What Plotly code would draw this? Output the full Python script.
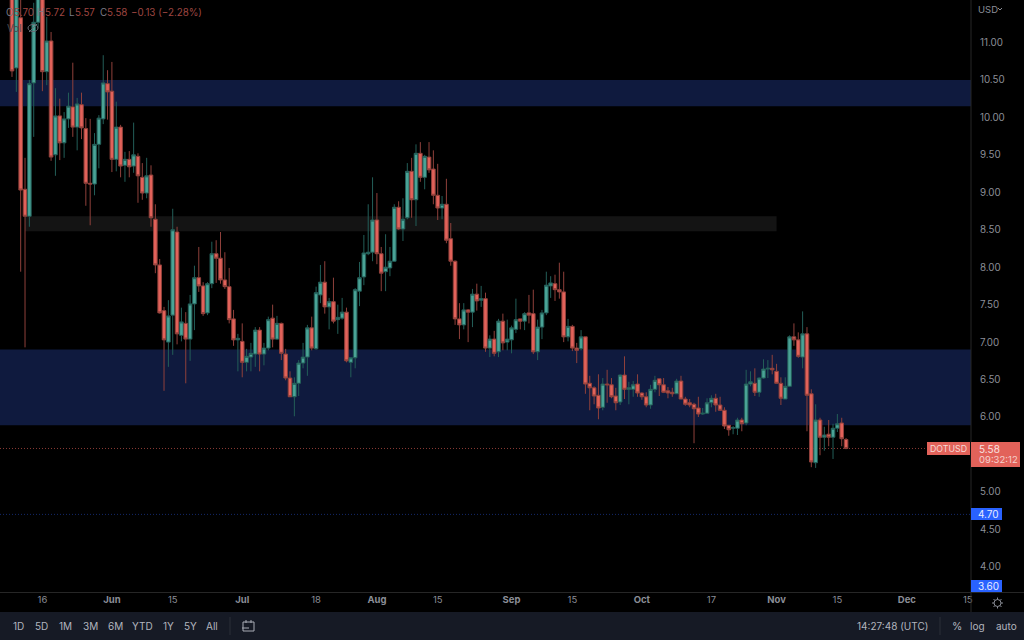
import plotly.graph_objects as go
import pandas as pd

dates = pd.date_range("2022-05-09", periods=193, freq="D")
opens = [11.90,10.66,11.33,9.04,8.68,10.46,11.27,11.75,10.61,11.02,9.50,10.02,9.66,9.98,10.14,9.87,10.17,9.85,9.12,9.11,9.64,9.98,10.45,10.35,9.44,9.87,9.36,9.44,9.35,9.48,9.20,8.99,9.23,
8.64,8.03,7.42,7.00,7.36,8.47,7.09,7.25,7.04,7.51,7.86,7.75,7.39,7.78,8.18,8.12,7.83,7.74,7.31,7.03,7.01,6.73,6.80,6.84,7.16,6.84,6.92,7.32,7.04,7.25,6.84,6.52,6.27,6.45,6.72,6.80,7.19,6.91,7.63,7.80,7.47,7.54,7.30,7.32,7.40,6.73,6.79,7.68,7.87,8.18,8.20,8.63,8.18,7.94,7.99,8.08,8.80,8.51,8.66,9.28,8.90,9.52,9.20,9.47,9.31,8.96,8.79,8.84,8.38,8.08,7.31,7.23,7.43,7.40,7.64,7.56,7.58,
6.92,7.04,6.87,7.28,7.00,7.03,7.17,7.31,7.28,7.39,7.38,6.87,7.20,7.39,7.75,7.78,7.70,7.67,7.07,7.21,6.92,6.91,7.07,6.45,6.39,6.29,6.13,6.44,6.43,6.28,6.20,6.56,6.37,6.37,6.44,6.32,6.27,6.16,6.37,6.51,6.43,6.35,6.33,6.31,6.48,6.24,6.19,6.17,6.12,6.04,6.05,6.19,6.25,6.16,6.09,5.89,5.85,5.85,5.96,5.92,6.44,6.45,6.33,6.52,6.64,6.65,6.61,6.45,6.24,6.41,7.07,7.03,6.80,7.11,6.31,5.39,5.96,5.73,5.77,5.73,5.85,5.92,5.70]
highs = [12.20,11.90,11.80,9.46,10.50,11.53,11.80,11.90,11.34,11.14,10.39,10.25,10.07,10.33,10.73,10.26,10.33,9.99,9.98,9.79,10.03,10.83,10.63,10.74,10.21,9.90,9.54,9.55,9.93,9.52,9.39,9.46,9.36,
8.84,8.11,7.47,7.56,8.78,8.54,7.46,7.40,7.63,8.02,8.27,7.80,7.80,8.34,8.36,8.47,8.20,7.99,7.43,7.11,7.25,6.91,6.99,7.20,7.20,6.99,7.34,7.50,7.35,7.26,6.91,6.61,6.53,6.76,6.99,7.23,7.34,7.74,8.03,8.08,7.59,7.86,7.50,7.59,7.46,6.79,7.72,8.07,8.43,8.84,9.20,8.99,8.27,8.44,8.27,8.84,8.88,8.92,9.39,9.46,9.64,9.67,9.50,9.67,9.56,9.38,8.95,9.18,8.59,8.09,7.52,7.52,7.44,7.71,7.78,7.75,7.66,
7.09,7.15,7.31,7.38,7.30,7.22,7.58,7.31,7.40,7.63,7.70,7.30,7.43,7.94,7.88,7.90,8.06,7.94,7.31,7.23,6.99,7.16,7.07,6.55,6.41,6.57,6.52,6.63,6.52,6.39,6.57,6.81,6.47,6.48,6.57,6.33,6.33,6.43,6.55,6.51,6.52,6.40,6.39,6.51,6.55,6.27,6.24,6.19,6.27,6.12,6.25,6.29,6.31,6.27,6.13,5.89,5.88,5.99,5.99,6.63,6.61,6.65,6.53,6.77,6.76,6.83,6.71,6.53,6.53,7.09,7.25,7.13,7.41,7.20,6.37,6.17,5.99,5.87,5.96,5.91,6.04,5.99,5.72]
lows = [10.54,10.34,7.94,6.93,8.54,9.74,11.20,10.35,10.43,9.42,9.22,9.43,9.46,9.86,9.74,9.56,9.71,8.82,8.56,8.96,9.32,9.91,9.97,9.27,9.28,9.20,9.14,9.20,9.26,8.86,8.90,8.92,8.54,
7.92,7.38,6.35,6.67,6.83,6.97,7.01,6.45,6.75,7.16,7.67,7.35,7.36,7.72,7.79,7.78,7.71,7.25,6.95,6.61,6.53,6.61,6.61,6.67,6.61,6.69,6.89,6.93,7.03,6.76,6.49,6.27,6.01,6.28,6.65,6.55,6.89,6.90,7.52,7.38,7.17,7.25,7.11,7.30,6.73,6.53,6.65,7.48,7.76,8.16,8.08,8.04,7.68,7.68,7.88,8.07,8.50,8.35,8.64,8.66,8.55,9.14,9.04,9.26,8.84,8.63,8.64,8.32,8.02,7.23,7.04,7.17,7.00,7.20,7.42,7.47,6.87,
6.80,6.81,6.80,6.89,6.89,6.85,7.12,7.17,7.16,7.25,6.84,6.76,7.04,7.36,7.59,7.55,7.58,7.00,7.01,6.88,6.72,6.89,6.31,6.09,6.17,5.97,6.09,6.19,6.25,6.09,6.16,6.24,6.17,6.27,6.27,6.23,6.13,6.11,6.33,6.28,6.32,6.25,6.27,6.31,6.24,6.15,6.13,5.65,6.00,6.03,6.04,6.13,6.07,6.08,5.84,5.75,5.77,5.76,5.81,5.89,6.41,6.28,6.27,6.51,6.52,6.57,6.45,6.16,6.24,6.40,6.95,6.79,6.65,5.81,5.33,5.32,5.49,5.55,5.61,5.44,5.80,5.61,5.57]
closes = [10.62,11.70,9.03,8.68,10.45,11.27,11.60,10.61,11.02,9.47,10.02,9.66,9.98,10.15,9.87,10.18,9.86,9.12,9.11,9.64,9.99,10.46,10.34,9.44,9.87,9.35,9.44,9.34,9.50,9.22,8.99,9.22,8.66,
8.03,7.39,7.03,7.35,8.50,7.11,7.27,7.04,7.51,7.86,7.75,7.38,7.78,8.18,8.12,7.83,7.74,7.30,7.03,7.05,6.73,6.81,6.85,7.16,6.84,6.92,7.30,7.04,7.25,6.85,6.52,6.27,6.45,6.72,6.80,7.19,6.92,7.66,7.80,7.47,7.54,7.28,7.33,7.40,6.75,6.79,7.70,7.86,8.19,8.20,8.63,8.18,7.92,8.00,8.08,8.80,8.51,8.64,9.28,8.90,9.52,9.20,9.48,9.30,8.96,8.79,8.84,8.36,8.08,7.31,7.23,7.43,7.40,7.64,7.55,7.58,6.92,
7.04,6.85,7.28,6.99,7.04,7.19,7.30,7.28,7.38,7.36,6.87,7.20,7.39,7.76,7.79,7.70,7.67,7.07,7.21,6.92,6.89,7.07,6.44,6.39,6.28,6.12,6.44,6.43,6.27,6.19,6.56,6.37,6.39,6.43,6.32,6.27,6.16,6.37,6.49,6.43,6.33,6.32,6.31,6.48,6.24,6.17,6.16,6.11,6.04,6.05,6.19,6.25,6.16,6.09,5.88,5.83,5.86,5.96,5.91,6.44,6.47,6.33,6.52,6.64,6.65,6.63,6.45,6.25,6.41,7.07,7.03,6.81,7.11,6.29,5.40,5.96,5.73,5.76,5.73,5.85,5.91,5.71,5.58]

price_ticks = [11.0,10.5,10.0,9.5,9.0,8.5,8.0,7.5,7.0,6.5,6.0,5.0,4.5,4.0]
date_ticks = ["2022-05-16","2022-06-01","2022-06-15","2022-07-01","2022-07-18","2022-08-01","2022-08-15","2022-09-01","2022-09-15","2022-10-01","2022-10-17","2022-11-01","2022-11-15","2022-12-01","2022-12-15"]
date_labels = ["16","Jun","15","Jul","18","Aug","15","Sep","15","Oct","17","Nov","15","Dec","15"]
range_buttons = ["1D","5D","1M","3M","6M","YTD","1Y","5Y","All"]
last_price = 5.58
alert_price = 4.70
zones = [(10.15,10.50,"#0f1a3e"),(5.89,6.90,"#0f1a3e")]
dark_zone = (8.48,8.68)

W, H, PR, PB = 1024, 640, 971, 592
FONT = "Inter, Roboto, sans-serif"
GREY = "#787b86"
RED = "#e2625a"
RED_DIM = "#8f403b"
GREEN = "#4aa396"
GREEN_DIM = "#235e58"

def X(px): return px/PR
def Y(py): return (PB-py)/PB

def box(x0,y0,x1,y1,color,**kw):
    return dict(type="rect",xref="paper",yref="paper",x0=X(x0),x1=X(x1),y0=Y(y0),y1=Y(y1),
                fillcolor=color,line=dict(width=0),layer="above",**kw)
def seg(x0,y0,x1,y1,color,w=1):
    return dict(type="line",xref="paper",yref="paper",x0=X(x0),x1=X(x1),y0=Y(y0),y1=Y(y1),
                line=dict(color=color,width=w),layer="above")
def txt(px,py,s,color=GREY,size=10,anchor="center"):
    return dict(xref="paper",yref="paper",x=X(px),y=Y(py),text=s,showarrow=False,xanchor=anchor,yanchor="middle",
                font=dict(family=FONT,size=size,color=color),borderpad=0,borderwidth=0)

fig = go.Figure(go.Candlestick(
    x=dates,open=opens,high=highs,low=lows,close=closes,
    increasing=dict(line=dict(color=GREEN_DIM,width=1),fillcolor=GREEN),
    decreasing=dict(line=dict(color=RED_DIM,width=1),fillcolor=RED),
    whiskerwidth=0,hoverinfo="skip",showlegend=False))

shapes = []
for lo,hi,c in zones:
    shapes.append(dict(type="rect",xref="paper",yref="y",x0=0,x1=1,y0=lo,y1=hi,fillcolor=c,line=dict(width=0),layer="below"))
shapes.append(dict(type="rect",xref="x",yref="y",x0="2022-05-12",x1="2022-11-01",y0=dark_zone[0],y1=dark_zone[1],fillcolor="#141414",line=dict(width=0),layer="below"))
shapes.append(dict(type="line",xref="paper",yref="y",x0=0,x1=1,y0=last_price,y1=last_price,line=dict(color="#8a3a35",width=1,dash="1px,2px"),layer="below"))
shapes.append(dict(type="line",xref="paper",yref="y",x0=0,x1=1,y0=alert_price,y1=alert_price,line=dict(color="#14296a",width=1,dash="1px,2px"),layer="below"))

shapes += [
    seg(971,0,971,640,"#262626"),
    seg(0,592.5,1024,592.5,"#262626"),
    box(0,612,1024,640,"#161a25"),
    seg(230,617,230,635,"#2a2e39"),
    seg(940,617,940,635,"#2a2e39"),
    box(927,442,970,455,RED),
    box(971,442,1020,467,RED),
    box(971,508,1002,520,"#2962ff"),
    box(971,580,1002,592,"#2962ff"),
    seg(998,8,1000,10,"#8b8e97"), seg(1000,10,1002,8,"#8b8e97"),
]
shapes += [
    dict(type="rect",xref="paper",yref="paper",x0=X(243),x1=X(254),y0=Y(622),y1=Y(631),line=dict(color="#a8abb5",width=1),fillcolor="rgba(0,0,0,0)",layer="above"),
    seg(246,620,246,623,"#a8abb5"), seg(251,620,251,623,"#a8abb5"),
    seg(242,628,249,628,"#a8abb5"),
]
shapes.append(dict(type="circle",xref="paper",yref="paper",x0=X(994),x1=X(1001),y0=Y(599.5),y1=Y(606.5),line=dict(color="#8a8d96",width=1),fillcolor="rgba(0,0,0,0)",layer="above"))
shapes += [seg(997.5,597.5,997.5,599.5,"#8a8d96"), seg(997.5,606.5,997.5,608.5,"#8a8d96"),
           seg(992,603,994,603,"#8a8d96"), seg(1001,603,1003,603,"#8a8d96"),
           seg(993.5,599,995,600.5,"#8a8d96"), seg(1000,605.5,1001.5,607,"#8a8d96"),
           seg(1001.5,599,1000,600.5,"#8a8d96"), seg(995,605.5,993.5,607,"#8a8d96")]
shapes += [
    dict(type="circle",xref="paper",yref="paper",x0=X(28),x1=X(38),y0=Y(24.5),y1=Y(31.5),line=dict(color="#6a6d75",width=1),fillcolor="rgba(0,0,0,0)",layer="above"),
    seg(29,32,37,24,"#6a6d75"),
]

HDR = "#9e4640"
ann = [
    txt(6,12.5,"O",GREY,9.8,"left"),
    txt(14,12.5,"5.70",HDR,9.8,"left"),
    txt(37,12.5,"H",GREY,9.8,"left"),
    txt(45,12.5,"5.72",HDR,9.8,"left"),
    txt(69,12.5,"L",GREY,9.8,"left"),
    txt(75,12.5,"5.57",HDR,9.8,"left"),
    txt(100,12.5,"C",GREY,9.8,"left"),
    txt(107,12.5,"5.58",HDR,9.8,"left"),
    txt(131,12.5,"−0.13 (−2.28%)",HDR,9.8,"left"),
    txt(7,28.5,"Vol","#4a4c54",9.8,"left"),
    txt(978,9.5,"USD","#8b8e97",9.5,"left"),
    txt(948.5,448.5,"DOTUSD","#f6d9d6",8.8),
    txt(979,448.5,"5.58","#f8e3e1",10,"left"),
    txt(979,460,"09:32:12","#f5d0cc",9.5,"left"),
    txt(988,514,"4.70","#e6ecff",10),
    txt(988,586,"3.60","#e6ecff",10),
    txt(892,626,"14:27:48 (UTC)","#b2b5be",10),
    txt(957,626,"%","#b2b5be",10.5),
    txt(978,626,"log","#b2b5be",10),
    txt(1006,626,"auto","#b2b5be",10),
]
for px,lab in zip([18,41,65,90,115,142,168,190,212],range_buttons):
    ann.append(txt(px,626,lab,"#b2b5be",10))

tick_text = [f'<b>{t}</b>' if t[0].isalpha() else t for t in date_labels]

fig.update_layout(
    width=W,height=H,autosize=False,
    margin=dict(l=0,r=W-PR,t=0,b=H-PB,pad=0),
    paper_bgcolor="#000000",plot_bgcolor="#000000",
    font=dict(family=FONT,size=9.5,color="#8b8e97"),
    showlegend=False,boxgap=0.17,boxgroupgap=0,
    xaxis=dict(type="date",rangeslider=dict(visible=False),
               range=[pd.Timestamp("2022-05-09")-pd.Timedelta(days=2.76),pd.Timestamp("2022-05-09")+pd.Timedelta(days=220.76)],
               tickmode="array",tickvals=date_ticks,ticktext=tick_text,
               showgrid=False,zeroline=False,showline=False,ticks="",ticklen=0,
               tickangle=0,automargin=False,
               tickfont=dict(family=FONT,size=9.5,color="#8b8e97")),
    yaxis=dict(side="right",range=[3.664,11.567],tickmode="array",tickvals=price_ticks,
               ticktext=[f"{v:.2f}" for v in price_ticks],
               showgrid=False,zeroline=False,showline=False,ticks="outside",ticklen=6,tickcolor="rgba(0,0,0,0)",
               automargin=False,tickfont=dict(family=FONT,size=9.8,color="#8b8e97")),
    shapes=shapes,annotations=ann)

fig.write_html("out.html",config=dict(displayModeBar=False,staticPlot=True),
               post_script="document.body.style.margin='0';document.body.style.background='#000';")
